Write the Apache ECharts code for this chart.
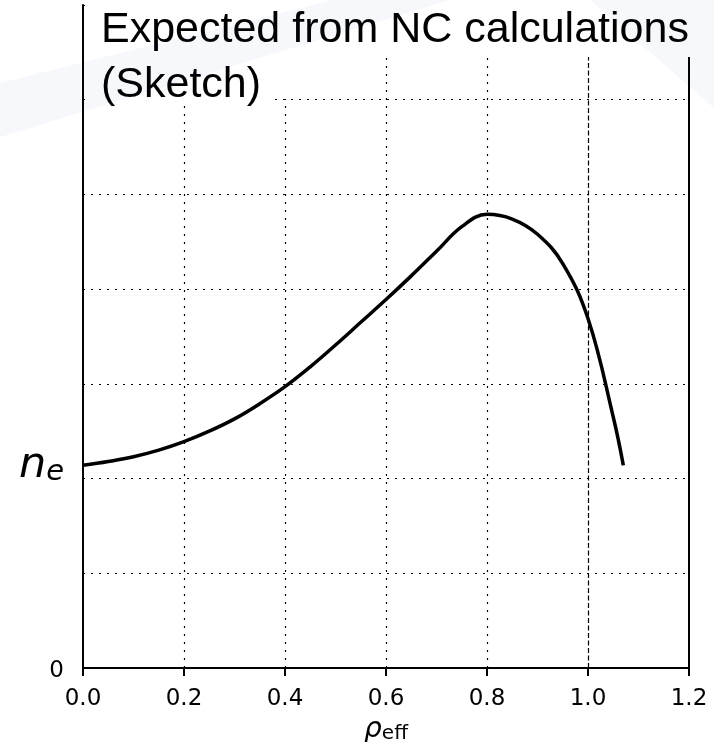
<!DOCTYPE html>
<html>
<head>
<meta charset="utf-8">
<script src="https://cdn.jsdelivr.net/npm/echarts@6/dist/echarts.min.js"></script>
<style>
html,body{margin:0;padding:0;background:#fff;}
#chart{width:714px;height:742px;}
</style>
</head>
<body>
<div id="chart"></div>
<script>
// ---- data ----
const rho = [0, 0.05, 0.1, 0.15, 0.2, 0.25, 0.3, 0.35, 0.4, 0.45, 0.5, 0.55, 0.6, 0.65, 0.7, 0.75, 0.8, 0.85, 0.9, 0.95, 1.0, 1.05, 1.07];
const ne  = [2.14, 2.18, 2.23, 2.30, 2.39, 2.50, 2.63, 2.79, 2.97, 3.18, 3.41, 3.65, 3.89, 4.14, 4.40, 4.66, 4.79, 4.74, 4.58, 4.27, 3.69, 2.65, 2.14];
const xTicks = [0, 0.2, 0.4, 0.6, 0.8, 1.0, 1.2];
const gridX = [0.2, 0.4, 0.6, 0.8];
const separatrixX = [1.0];
const yMin = 0, yMax = 7, yStep = 1;
const titleLines = ['Expected from NC calculations', '(Sketch)'];

const chart = echarts.init(document.getElementById('chart'));
const BLACK = '#000';
const dotted = {color: BLACK, width: 1.2, type: [2, 6]};
const dashed = {color: BLACK, width: 1.2, type: [5, 2.5]};

const option = {
  backgroundColor: '#fff',
  animation: false,
  grid: {left: 83, right: 25, top: 5, bottom: 74, outerBoundsMode: 'none', containLabel: false},
  xAxis: {
    type: 'value', min: xTicks[0], max: xTicks[xTicks.length - 1], interval: 0.2,
    axisLine: {show: true, lineStyle: {color: BLACK, width: 2}},
    axisTick: {show: true, inside: false, length: 8, lineStyle: {color: BLACK, width: 2}},
    axisLabel: {color: BLACK, fontFamily: 'DejaVu Sans', fontSize: 23, margin: 20,
      formatter: v => v.toFixed(1)},
    splitLine: {show: false},
    name: '{r|ρ}{s|eff}', nameLocation: 'middle', nameGap: 44,
    nameTextStyle: {rich: {
      r: {fontFamily: 'DejaVu Sans', fontStyle: 'italic', fontSize: 28, color: BLACK, verticalAlign: 'bottom', lineHeight: 30},
      s: {fontFamily: 'DejaVu Sans', fontSize: 20, color: BLACK, verticalAlign: 'bottom', lineHeight: 26}
    }}
  },
  yAxis: [{
    type: 'value', min: yMin, max: yMax, interval: yStep,
    axisLine: {show: true, lineStyle: {color: BLACK, width: 2}},
    axisTick: {show: false},
    splitLine: {show: true, lineStyle: dotted},
    axisLabel: {
      color: BLACK, fontFamily: 'DejaVu Sans', fontSize: 23, margin: 19,
      customValues: [yMin, ne[0]],
      formatter: v => v === yMin ? '{z|0}' : '{n|n}{e|e}',
      rich: {
        z: {fontFamily: 'DejaVu Sans', fontSize: 23, color: BLACK, padding: [6, 0, 0, 0]},
        n: {fontFamily: 'DejaVu Sans', fontStyle: 'italic', fontSize: 43, color: BLACK, verticalAlign: 'bottom', lineHeight: 44},
        e: {fontFamily: 'DejaVu Sans', fontStyle: 'italic', fontSize: 29, color: BLACK, verticalAlign: 'bottom', lineHeight: 34}
      }
    }
  }, {
    type: 'value', position: 'right', min: yMin, max: yMax, interval: yStep,
    axisLine: {show: true, lineStyle: {color: BLACK, width: 2}},
    axisTick: {show: false}, axisLabel: {show: false}, splitLine: {show: false}
  }],
  series: [{
    type: 'line', data: [], z: 1, silent: true,
    markLine: {
      silent: true, symbol: 'none', label: {show: false}, animation: false,
      data: gridX.map(v => ({xAxis: v, lineStyle: dotted}))
        .concat(separatrixX.map(v => ({xAxis: v, lineStyle: dashed})))
    }
  }, {
    type: 'line', z: 3,
    data: rho.map((r, i) => [r, ne[i]]),
    smooth: 0.4, showSymbol: false,
    lineStyle: {color: BLACK, width: 3.5, cap: 'butt'}
  }],
  graphic: [
    {type: 'rect', z: 100, silent: true, shape: {x: 86, y: 0, width: 628, height: 57}, style: {fill: '#fff'}},
    {type: 'rect', z: 100, silent: true, shape: {x: 86, y: 57, width: 184, height: 44}, style: {fill: '#fff'}},
    {type: 'rect', z: 100, silent: true, shape: {x: 270, y: 57, width: 30, height: 42}, style: {fill: '#fff'}},
    {type: 'text', z: 101, silent: true, x: 101, y: 30,
      style: {text: titleLines[0], font: '43px "Liberation Sans"', fill: BLACK, verticalAlign: 'middle'}},
    {type: 'text', z: 101, silent: true, x: 101, y: 85,
      style: {text: titleLines[1], font: '43px "Liberation Sans"', fill: BLACK, verticalAlign: 'middle'}},
    {type: 'polygon', z: 102, silent: true, shape: {points: [[0, 83], [0, 137], [450, 0], [333, 0]]}, style: {fill: 'rgba(30,60,140,0.035)'}},
    {type: 'polygon', z: 102, silent: true, shape: {points: [[590, 0], [714, 0], [714, 108]]}, style: {fill: 'rgba(30,60,140,0.035)'}}
  ]
};
chart.setOption(option);
</script>
</body>
</html>
